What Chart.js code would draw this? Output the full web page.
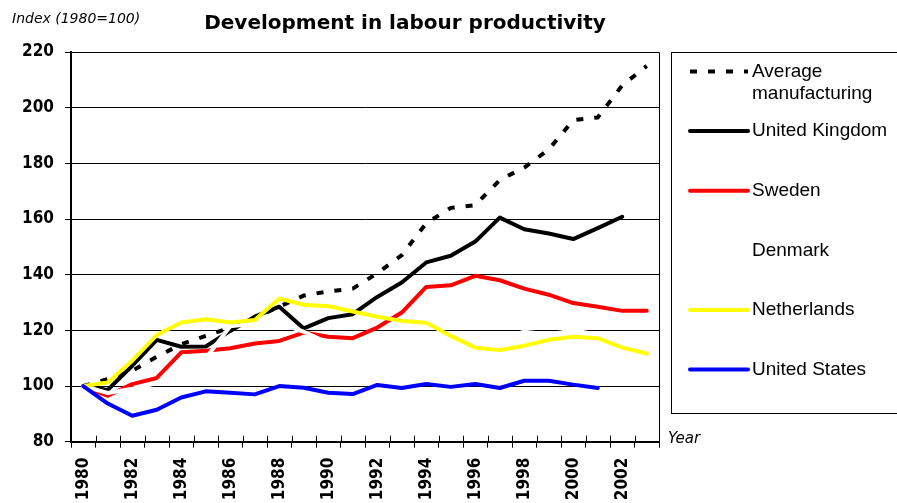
<!DOCTYPE html>
<html>
<head>
<meta charset="utf-8">
<title>Development in labour productivity</title>
<script src="https://cdn.jsdelivr.net/npm/chart.js@4.4.0/dist/chart.umd.min.js"></script>
<style>
  body { margin: 0; background: #fff; }
  #wrap { width: 897px; height: 503px; }
</style>
</head>
<body>
<div id="wrap"><canvas id="myChartLine" width="897" height="503"></canvas></div>
<script>
var years = ['1980', '1981', '1982', '1983', '1984', '1985', '1986', '1987', '1988', '1989', '1990', '1991',
             '1992', '1993', '1994', '1995', '1996', '1997', '1998', '1999', '2000', '2001', '2002', '2003'];

var avgManufacturing = [100, 102.5, 105.5, 110.5, 115, 118, 121, 124.5, 128.5, 132.5, 134, 135,
                        140.5, 147, 158.5, 164, 165, 174, 178.5, 185, 195.5, 196.5, 208, 215];
var unitedKingdom = [100, 98.6, 107.3, 116.6, 114.1, 114.2, 119.8, 124.9, 128.5, 120.7, 124.4, 125.8,
                     132, 137.2, 144.4, 146.8, 151.9, 160.5, 156.3, 154.8, 152.8, 156.7, 160.8, null];
var sweden = [100, 96.5, 100.7, 102.9, 112.1, 112.7, 113.6, 115.3, 116.2, 119.2, 117.7, 117.2,
              121, 126.4, 135.6, 136.2, 139.6, 138, 135, 132.8, 129.8, 128.5, 127, 127];
// Denmark is drawn in white, only visible where it cuts other lines
var denmark = [100, 97.5, 99, 101, 106, 110, 121.5, 122.5, 122.5, 119.5, 115.5, 115,
               115.5, 116, 116.5, 116, 115.5, 117, 119.5, 118.5, 120, 118.5, null, null];
var netherlands = [100, 101.3, 109.1, 118.3, 122.8, 124, 122.8, 123.7, 131.4, 129.2, 128.7, 126.8,
                   124.9, 123.4, 122.7, 118, 113.8, 112.9, 114.5, 116.6, 117.7, 117.2, 113.8, 111.7];
var unitedStates = [100, 93.7, 89.3, 91.5, 95.9, 98.1, 97.6, 97, 100, 99.4, 97.6, 97.1,
                    100.4, 99.3, 100.7, 99.7, 100.7, 99.3, 101.9, 101.9, 100.5, 99.3, null, null];

var seriesNames = ['Average manufacturing', 'United Kingdom', 'Sweden', 'Denmark', 'Netherlands', 'United States'];
var seriesColors = ['#000000', '#000000', '#ff0000', '#ffffff', '#ffff00', '#0000ff'];
var seriesValues = [avgManufacturing, unitedKingdom, sweden, denmark, netherlands, unitedStates];
var yTicks = [80, 100, 120, 140, 160, 180, 200, 220];

var chartTitle = 'Development in labour productivity';
var yTitle = 'Index (1980=100)';
var xTitle = 'Year';

var tickFont = { family: "'DejaVu Sans Condensed', 'DejaVu Sans', sans-serif", size: 17, weight: 'bold' };

var datasets = seriesValues.map(function(values, i) {
    return {
        label: seriesNames[i],
        data: values,
        borderColor: seriesColors[i],
        backgroundColor: seriesColors[i],
        borderWidth: 4,
        borderDash: i == 0 ? [7, 11] : [],
        borderCapStyle: i == 0 ? 'butt' : 'round',
        borderJoinStyle: 'round',
        pointRadius: 0,
        tension: 0,
        fill: false,
        spanGaps: false,
        // later series on top, like the original
        order: seriesNames.length - i
    };
});

// title, axis captions, frame, crossing tick marks and the boxed legend
var decorPlugin = {
    id: 'decor',
    afterDraw: function(chart) {
        var ctx = chart.ctx;
        var area = chart.chartArea;
        var xs = chart.scales.x;
        ctx.save();

        // frame right + top
        ctx.strokeStyle = '#000';
        ctx.lineWidth = 1;
        ctx.beginPath();
        ctx.moveTo(area.left, Math.round(area.top) + 0.5);
        ctx.lineTo(Math.round(area.right) + 0.5, Math.round(area.top) + 0.5);
        ctx.lineTo(Math.round(area.right) + 0.5, area.bottom);
        ctx.stroke();

        // x tick marks also go a bit inside the plot
        var w = xs.getPixelForValue(1) - xs.getPixelForValue(0);
        var x0 = xs.getPixelForValue(0) - w / 2;
        ctx.beginPath();
        for (var i = 0; i <= years.length; i++) {
            var x = Math.round(x0 + i * w) + 0.5;
            ctx.moveTo(x, area.bottom - 6);
            ctx.lineTo(x, area.bottom);
        }
        ctx.stroke();

        // texts
        ctx.fillStyle = '#000';
        ctx.textBaseline = 'middle';
        ctx.textAlign = 'center';
        ctx.font = "bold 20px 'DejaVu Sans', sans-serif";
        ctx.fillText(chartTitle, 405, 24);
        ctx.textAlign = 'left';
        ctx.font = "italic 14px 'DejaVu Sans', sans-serif";
        ctx.fillText(yTitle, 12, 19);
        ctx.font = "italic 15px 'DejaVu Sans', sans-serif";
        ctx.fillText(xTitle, area.right + 9, area.bottom - 3);

        // legend box
        var lx = area.right + 12;
        ctx.lineWidth = 1;
        ctx.strokeStyle = '#000';
        ctx.strokeRect(Math.round(lx) + 0.5, Math.round(area.top) + 0.5, 300, 361);

        ctx.font = "19px 'Liberation Sans', Arial, sans-serif";
        var textX = lx + 81;
        var maxW = chart.width - textX - 4;
        for (var k = 0; k < datasets.length; k++) {
            var ds = datasets[k];
            var y = area.top + 19.5 + k * 59.6;
            ctx.beginPath();
            ctx.strokeStyle = ds.borderColor;
            ctx.lineWidth = 4;
            ctx.lineCap = ds.borderCapStyle;
            ctx.setLineDash(ds.borderDash);
            ctx.moveTo(lx + 19, y);
            ctx.lineTo(lx + 77, y);
            ctx.stroke();
            ctx.setLineDash([]);

            // wrap long labels
            var words = ds.label.split(' ');
            var lines = [];
            var cur = '';
            words.forEach(function(wd) {
                var test = cur ? cur + ' ' + wd : wd;
                if (cur && ctx.measureText(test).width > maxW) {
                    lines.push(cur);
                    cur = wd;
                } else {
                    cur = test;
                }
            });
            lines.push(cur);
            ctx.fillStyle = '#000';
            lines.forEach(function(line, j) {
                ctx.fillText(line, textX, y + j * 22);
            });
        }
        ctx.restore();
    }
};

var ctxLine = document.getElementById('myChartLine');
var myChartLine = new Chart(ctxLine, {
    type: 'line',
    data: {
        labels: years,
        datasets: datasets
    },
    options: {
        responsive: false,
        animation: false,
        layout: {
            padding: { top: 52, right: 238, bottom: 0, left: 0 }
        },
        plugins: {
            legend: { display: false },
            tooltip: { enabled: false },
            title: { display: false }
        },
        scales: {
            x: {
                offset: true,
                grid: {
                    offset: true,
                    drawOnChartArea: false,
                    drawTicks: true,
                    tickLength: 6,
                    color: '#000'
                },
                border: { color: '#000', width: 2 },
                ticks: {
                    autoSkip: false,
                    maxRotation: 90,
                    minRotation: 90,
                    padding: 10,
                    color: '#000',
                    font: tickFont,
                    callback: function(value, index) {
                        var yr = years[index];
                        return Number(yr) % 2 == 0 ? yr : '';
                    }
                },
                afterFit: function(scale) { scale.height = 61.3; }
            },
            y: {
                min: yTicks[0],
                max: yTicks[yTicks.length - 1],
                afterBuildTicks: function(scale) {
                    scale.ticks = yTicks.map(function(v) { return { value: v }; });
                },
                grid: {
                    color: '#000',
                    lineWidth: 1,
                    tickLength: 6
                },
                border: { color: '#000', width: 2 },
                ticks: {
                    padding: 11,
                    color: '#000',
                    font: tickFont
                },
                afterFit: function(scale) { scale.width = 71; }
            }
        }
    },
    plugins: [decorPlugin]
});
</script>
</body>
</html>
